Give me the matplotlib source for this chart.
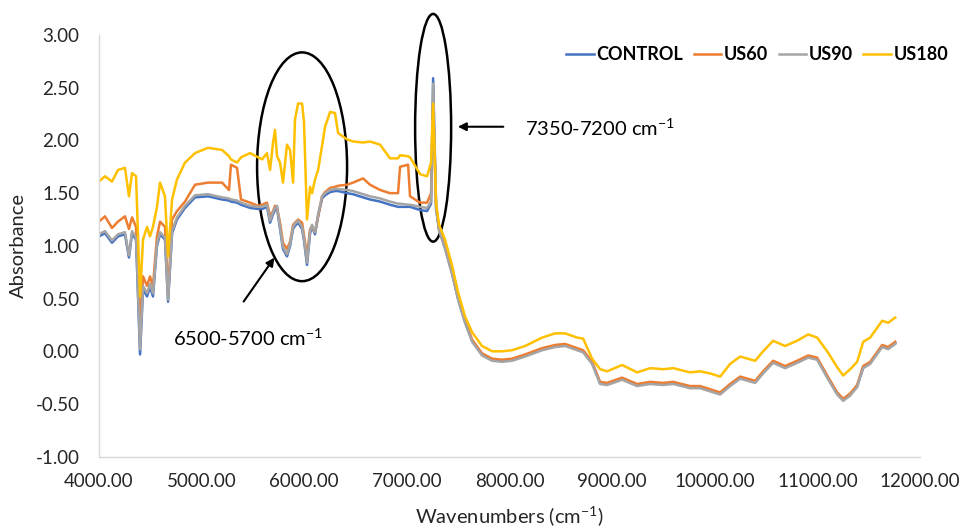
import matplotlib
matplotlib.use("Agg")
import matplotlib.pyplot as plt
from matplotlib.patches import Ellipse

plt.rcParams['font.family'] = ['Lato', 'DejaVu Sans']
plt.rcParams['mathtext.fontset'] = 'custom'
plt.rcParams['mathtext.rm'] = 'Lato'
plt.rcParams['mathtext.it'] = 'Lato:italic'
plt.rcParams['mathtext.bf'] = 'Lato:bold'

# wavenumbers (cm-1)
wavenumbers = [
    4000, 4058, 4127, 4185, 4253, 4292, 4322, 4361, 4400, 4429,
    4468, 4497, 4526, 4565, 4595, 4643, 4673, 4712, 4760, 4838,
    4936, 5062, 5199, 5267, 5286, 5345, 5384, 5472, 5550, 5589,
    5637, 5667, 5696, 5715, 5735, 5764, 5793, 5832, 5862, 5891,
    5910, 5940, 5979, 5998, 6027, 6057, 6076, 6105, 6135, 6174,
    6203, 6252, 6300, 6330, 6417, 6476, 6573, 6641, 6739, 6836,
    6914, 6934, 7012, 7031, 7129, 7197, 7236, 7256, 7285, 7314,
    7372, 7441, 7499, 7567, 7636, 7733, 7831, 7928, 8025, 8152,
    8318, 8445, 8542, 8659, 8718, 8805, 8883, 8951, 9098, 9244,
    9371, 9497, 9595, 9760, 9858, 9955, 10053, 10150, 10248, 10394,
    10472, 10569, 10686, 10803, 10911, 10998, 11096, 11193, 11252, 11320,
    11388, 11447, 11515, 11632, 11690, 11759,
]

control = [
    1.09, 1.12, 1.03, 1.09, 1.11, 0.89, 1.12, 1.06, -0.03, 0.59,
    0.52, 0.61, 0.52, 1.00, 1.11, 1.06, 0.47, 1.12, 1.25, 1.36,
    1.46, 1.47, 1.44, 1.43, 1.42, 1.41, 1.39, 1.36, 1.35, 1.35,
    1.37, 1.22, 1.30, 1.34, 1.36, 1.16, 0.97, 0.90, 1.00, 1.16,
    1.19, 1.22, 1.16, 1.05, 0.82, 1.12, 1.18, 1.11, 1.28, 1.45,
    1.48, 1.51, 1.52, 1.52, 1.50, 1.49, 1.46, 1.44, 1.42, 1.39,
    1.37, 1.37, 1.37, 1.37, 1.34, 1.33, 1.40, 2.59, 1.35, 1.15,
    0.98, 0.74, 0.50, 0.28, 0.10, -0.03, -0.08, -0.09, -0.08, -0.04,
    0.02, 0.05, 0.06, 0.02, 0.00, -0.11, -0.30, -0.31, -0.26, -0.32,
    -0.30, -0.31, -0.30, -0.34, -0.34, -0.37, -0.40, -0.32, -0.25, -0.29,
    -0.20, -0.10, -0.15, -0.10, -0.05, -0.07, -0.24, -0.40, -0.46, -0.41,
    -0.33, -0.15, -0.11, 0.05, 0.03, 0.08,
]

us60 = [
    1.23, 1.28, 1.17, 1.23, 1.28, 1.16, 1.27, 1.18, 0.25, 0.71,
    0.62, 0.71, 0.62, 1.09, 1.23, 1.18, 0.55, 1.25, 1.33, 1.42,
    1.58, 1.60, 1.60, 1.53, 1.77, 1.74, 1.44, 1.41, 1.38, 1.39,
    1.41, 1.28, 1.33, 1.38, 1.36, 1.22, 1.03, 0.97, 1.04, 1.20,
    1.22, 1.25, 1.22, 1.10, 0.90, 1.16, 1.18, 1.13, 1.28, 1.47,
    1.51, 1.55, 1.56, 1.57, 1.58, 1.60, 1.64, 1.58, 1.53, 1.50,
    1.50, 1.75, 1.77, 1.47, 1.41, 1.41, 1.50, 2.36, 1.38, 1.16,
    0.99, 0.75, 0.51, 0.29, 0.11, -0.02, -0.07, -0.08, -0.07, -0.03,
    0.03, 0.06, 0.07, 0.03, 0.01, -0.10, -0.29, -0.30, -0.25, -0.31,
    -0.29, -0.30, -0.29, -0.33, -0.33, -0.36, -0.39, -0.31, -0.24, -0.28,
    -0.19, -0.09, -0.14, -0.09, -0.04, -0.06, -0.23, -0.39, -0.45, -0.40,
    -0.32, -0.14, -0.10, 0.06, 0.04, 0.09,
]

us90 = [
    1.11, 1.14, 1.05, 1.11, 1.13, 0.91, 1.14, 1.08, 0.02, 0.62,
    0.55, 0.64, 0.55, 1.02, 1.13, 1.08, 0.49, 1.14, 1.27, 1.38,
    1.48, 1.49, 1.46, 1.45, 1.44, 1.43, 1.41, 1.38, 1.37, 1.37,
    1.39, 1.24, 1.32, 1.36, 1.38, 1.18, 0.99, 0.92, 1.02, 1.18,
    1.21, 1.24, 1.18, 1.07, 0.84, 1.14, 1.20, 1.13, 1.30, 1.47,
    1.50, 1.53, 1.54, 1.54, 1.53, 1.52, 1.49, 1.47, 1.45, 1.42,
    1.40, 1.40, 1.39, 1.39, 1.37, 1.36, 1.42, 2.54, 1.35, 1.15,
    0.97, 0.73, 0.49, 0.27, 0.09, -0.04, -0.09, -0.10, -0.09, -0.05,
    0.01, 0.04, 0.05, 0.01, -0.01, -0.12, -0.31, -0.32, -0.27, -0.33,
    -0.31, -0.32, -0.31, -0.35, -0.35, -0.38, -0.41, -0.33, -0.26, -0.30,
    -0.21, -0.11, -0.16, -0.11, -0.06, -0.08, -0.25, -0.41, -0.47, -0.42,
    -0.34, -0.16, -0.12, 0.04, 0.02, 0.07,
]

us180 = [
    1.61, 1.66, 1.61, 1.72, 1.74, 1.47, 1.69, 1.66, 0.52, 1.06,
    1.18, 1.09, 1.18, 1.37, 1.60, 1.47, 0.90, 1.44, 1.63, 1.79,
    1.88, 1.93, 1.91, 1.85, 1.82, 1.79, 1.84, 1.88, 1.84, 1.82,
    1.88, 1.72, 1.98, 2.10, 1.85, 1.79, 1.60, 1.96, 1.91, 1.60,
    2.20, 2.35, 2.35, 2.17, 1.25, 1.56, 1.50, 1.63, 1.72, 1.95,
    2.13, 2.27, 2.26, 2.07, 2.01, 1.99, 1.98, 1.99, 1.96, 1.83,
    1.83, 1.86, 1.85, 1.84, 1.68, 1.66, 1.79, 2.35, 1.40, 1.20,
    1.06, 0.81, 0.56, 0.33, 0.18, 0.05, 0.00, 0.00, 0.01, 0.05,
    0.13, 0.17, 0.17, 0.13, 0.12, -0.07, -0.17, -0.19, -0.13, -0.20,
    -0.16, -0.17, -0.16, -0.20, -0.19, -0.21, -0.24, -0.12, -0.05, -0.09,
    0.00, 0.10, 0.05, 0.10, 0.16, 0.13, 0.00, -0.15, -0.23, -0.17,
    -0.10, 0.09, 0.13, 0.29, 0.27, 0.32,
]

series_names = ['CONTROL', 'US60', 'US90', 'US180']
series_colors = ['#4472C4', '#ED7D31', '#A5A5A5', '#FFC000']

fig = plt.figure(figsize=(9.63, 5.28), dpi=100)
ax = fig.add_axes([0.1028, 0.135, 0.8525, 0.7987])

for name, values, color in zip(series_names, [control, us60, us90, us180], series_colors):
    ax.plot(wavenumbers, values, color=color, lw=1.8, label=name)

ax.set_xlim(4000, 12000)
ax.set_ylim(-1, 3)
ax.set_xticks(range(4000, 12001, 1000))
ax.set_yticks([-1, -0.5, 0, 0.5, 1, 1.5, 2, 2.5, 3])
ax.xaxis.set_major_formatter(matplotlib.ticker.FormatStrFormatter('%.2f'))
ax.yaxis.set_major_formatter(matplotlib.ticker.FormatStrFormatter('%.2f'))
ax.tick_params(length=0, labelsize=13.5, colors='#262626')
ax.tick_params(axis='y', pad=14)
ax.tick_params(axis='x', pad=12)

for side in ['top', 'right']:
    ax.spines[side].set_visible(False)
for side in ['left', 'bottom']:
    ax.spines[side].set_color('#D9D9D9')
    ax.spines[side].set_linewidth(1.0)

ax.set_xlabel('Wavenumbers (cm$^{-1}$)', fontsize=14.5, color='#262626', labelpad=10)
ax.set_ylabel('Absorbance', fontsize=14.5, color='#262626', labelpad=6)

# highlighted regions
ax.add_patch(Ellipse((5979, 1.75), 877, 2.17, fill=False, ec='black', lw=1.8, clip_on=False))
ax.add_patch(Ellipse((7256, 2.12), 351, 2.16, fill=False, ec='black', lw=1.8, clip_on=False))

ax.annotate('', xy=(5725, 0.91), xytext=(5394, 0.45),
            arrowprops=dict(arrowstyle='-|>', color='black', lw=1.5, mutation_scale=12))
ax.annotate('', xy=(7470, 2.13), xytext=(7967, 2.13),
            arrowprops=dict(arrowstyle='-|>', color='black', lw=1.5, mutation_scale=12))

ax.text(4721, 0.12, '6500-5700 cm$^{-1}$', fontsize=14.5, ha='left', va='center')
ax.text(8150, 2.12, '7350-7200 cm$^{-1}$', fontsize=14.5, ha='left', va='center')

leg = ax.legend(loc='upper right', bbox_to_anchor=(948 / 963, 1 - 46 / 528),
                bbox_transform=fig.transFigure, ncol=4, frameon=False,
                prop={'weight': 'bold', 'size': 13}, handlelength=1.5,
                handletextpad=0.15, columnspacing=0.6, borderpad=0, borderaxespad=0)

fig.savefig('out.png', dpi=100)
